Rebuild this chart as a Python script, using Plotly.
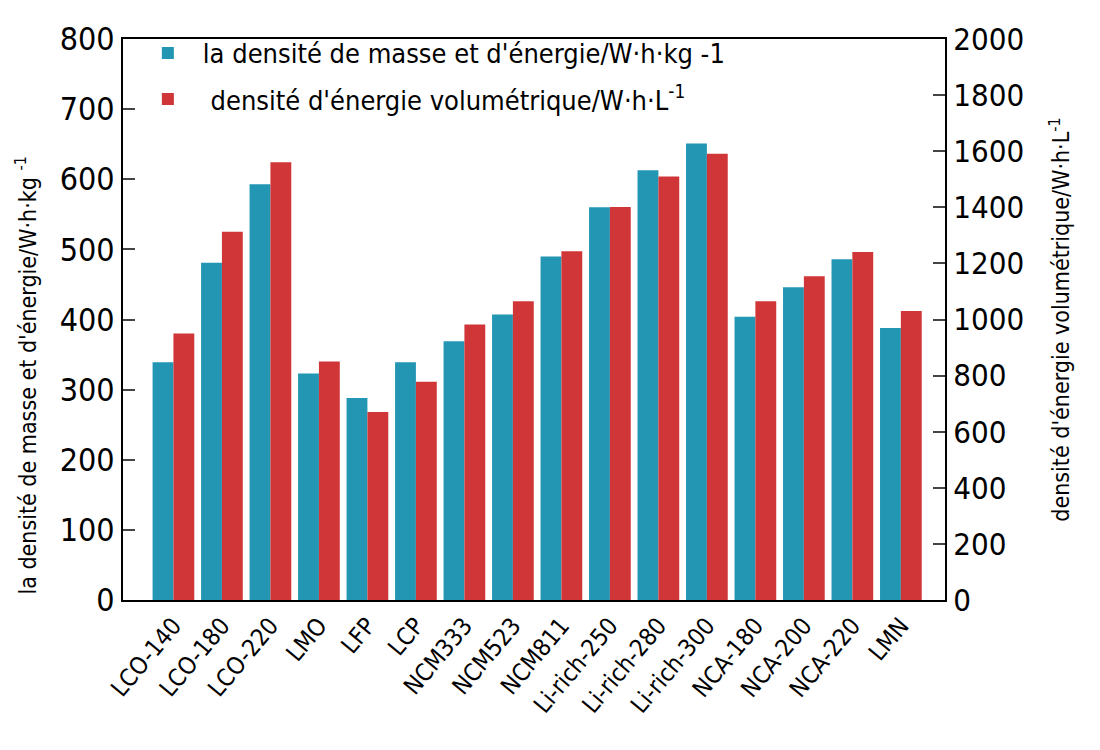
import plotly.graph_objects as go

# cathode materials
categories = ["LCO-140", "LCO-180", "LCO-220", "LMO", "LFP", "LCP", "NCM333",
              "NCM523", "NCM811", "Li-rich-250", "Li-rich-280", "Li-rich-300",
              "NCA-180", "NCA-200", "NCA-220", "LMN"]

# gravimetric energy density, W·h·kg-1 (left axis)
mass_energy = [339, 481, 593, 323, 288, 339, 369, 407, 490, 560, 613, 651,
               404, 446, 486, 388]

# volumetric energy density, W·h·L-1 (right axis)
vol_energy = [950, 1313, 1561, 850, 670, 778, 982, 1065, 1243, 1401, 1510,
              1591, 1065, 1154, 1241, 1030]

BLUE = "#2396B4"
RED = "#D03638"
FONT = "DejaVu Sans Condensed"
W = 0.43

fig = go.Figure()
fig.add_trace(go.Bar(
    x=categories, y=mass_energy, name="la densité de masse et d'énergie/W·h·kg -1",
    marker=dict(color=BLUE, line=dict(width=0)),
    width=W, offset=-W, legendgroup="a", yaxis="y",
))
fig.add_trace(go.Bar(
    x=categories, y=vol_energy,
    name="\u00a0densité d'énergie volumétrique/W·h·L<sup>-1</sup>",
    marker=dict(color=RED, line=dict(width=0)),
    width=W, offset=0, legendgroup="b", yaxis="y2",
))

fig.update_layout(
    width=1100, height=750,
    margin=dict(l=115, r=163, t=22, b=158),
    plot_bgcolor="white", paper_bgcolor="white",
    font=dict(family=FONT, color="black"),
    barmode="overlay",
    xaxis=dict(
        type="category", range=[-1.04, 15.91],
        showline=True, linecolor="black", linewidth=2, mirror=True,
        ticks="", tickangle=-50, tickfont=dict(size=24),
        showgrid=False,
    ),
    yaxis=dict(
        range=[0, 800], dtick=100, showline=True, linecolor="black",
        linewidth=2, ticks="inside", ticklen=12, tickwidth=2,
        tickfont=dict(size=32), showgrid=False, zeroline=False,
    ),
    yaxis2=dict(
        range=[0, 2000], dtick=200, overlaying="y", side="right",
        showline=True, linecolor="black", linewidth=2,
        ticks="inside", ticklen=12, tickwidth=2,
        tickfont=dict(size=31), showgrid=False, zeroline=False,
        title=dict(text="densité d'énergie volumétrique/W·h·L<sup>-1</sup>",
                   font=dict(size=23), standoff=30),
    ),
    legend=dict(
        x=0.012, y=1.018, xanchor="left", yanchor="top",
        bgcolor="rgba(0,0,0,0)", font=dict(size=27),
        itemwidth=60, tracegroupgap=8, traceorder="grouped",
    ),
)

# left axis title sits lower than the axis centre in the original
fig.add_annotation(
    text="la densité de masse et d'énergie/W·h·kg <sup>-1</sup>",
    xref="paper", yref="paper", x=-0.118, y=0.40,
    xanchor="center", yanchor="middle", textangle=-90,
    showarrow=False, font=dict(size=23),
)

fig.write_html("out.html")
